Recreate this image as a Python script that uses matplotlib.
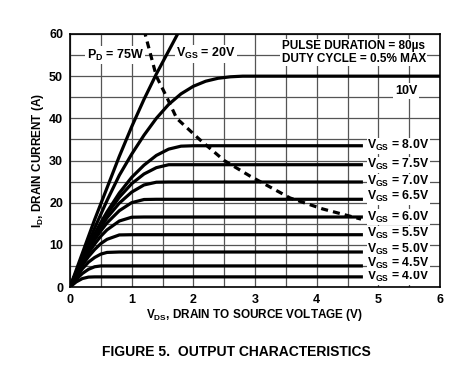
import matplotlib
matplotlib.use("Agg")
import matplotlib.pyplot as plt

plt.rcParams['font.family'] = ['Liberation Sans', 'DejaVu Sans']
plt.rcParams['font.weight'] = 'bold'
plt.rcParams['axes.labelweight'] = 'bold'
plt.rcParams['mathtext.fontset'] = 'custom'
plt.rcParams['mathtext.rm'] = 'Liberation Sans:bold'
plt.rcParams['mathtext.default'] = 'rm'

# drain voltage grid the low-VGS curves were read on
vds = [0, 0.1, 0.2, 0.3, 0.4, 0.5, 0.6, 0.8, 1.0, 1.2, 1.4, 1.6, 1.8, 2.0, 2.5, 3.0, 4.75]

# ID (A) per VGS curve
id_4v0 = [0, 1.2, 2.0, 2.35, 2.4, 2.4, 2.4, 2.4, 2.4, 2.4, 2.4, 2.4, 2.4, 2.4, 2.4, 2.4, 2.4]
id_4v5 = [0, 1.8, 3.2, 4.2, 4.8, 5.0, 5.0, 5.0, 5.0, 5.0, 5.0, 5.0, 5.0, 5.0, 5.0, 5.0, 5.0]
id_5v0 = [0, 2.3, 4.3, 5.9, 7.0, 7.8, 8.2, 8.3, 8.3, 8.3, 8.3, 8.3, 8.3, 8.3, 8.3, 8.3, 8.3]
id_5v5 = [0, 2.75, 5.15, 7.2, 8.9, 10.3, 11.3, 12.35, 12.4, 12.4, 12.4, 12.4, 12.4, 12.4, 12.4, 12.4, 12.4]
id_6v0 = [0, 3.0, 5.7, 8.1, 10.2, 12.05, 13.55, 15.65, 16.55, 16.6, 16.6, 16.6, 16.6, 16.6, 16.6, 16.6, 16.6]
id_6v5 = [0, 3.2, 6.1, 8.8, 11.2, 13.3, 15.2, 18.1, 20.0, 20.75, 20.8, 20.8, 20.8, 20.8, 20.8, 20.8, 20.8]
id_7v0 = [0, 3.3, 6.4, 9.2, 11.9, 14.2, 16.4, 19.9, 22.5, 24.2, 24.85, 24.9, 24.9, 24.9, 24.9, 24.9, 24.9]
id_7v5 = [0, 3.4, 6.6, 9.6, 12.3, 14.9, 17.3, 21.3, 24.5, 26.8, 28.3, 29.0, 29.0, 29.0, 29.0, 29.0, 29.0]
id_8v0 = [0, 3.4, 6.7, 9.7, 12.6, 15.3, 17.8, 22.3, 26.0, 28.9, 31.2, 32.7, 33.4, 33.5, 33.5, 33.5, 33.5]

vds_10v = [0, 0.2, 0.4, 0.6, 0.8, 1.0, 1.2, 1.4, 1.6, 1.8, 2.0, 2.2, 2.4, 2.6, 2.8, 3.0, 6.0]
id_10v = [0, 7, 14, 20.5, 26.5, 31.5, 36, 40, 43.3, 45.8, 47.6, 48.8, 49.5, 49.85, 50, 50, 50]

vds_20v = [0, 0.2, 0.4, 0.6, 0.8, 1.0, 1.2, 1.4, 1.6, 1.8]
id_20v = [0, 8, 16, 23.5, 31, 38, 44.5, 50.5, 56, 61.5]

# PD = 75W limit (dashed)
vds_pd = [1.2, 1.4, 1.57, 1.73, 2.1, 2.5, 2.92, 3.57, 4.1, 4.72]
id_pd = [61, 50, 45, 40, 35, 30, 26.3, 21.1, 18.5, 16.1]

low_curves = [id_4v0, id_4v5, id_5v0, id_5v5, id_6v0, id_6v5, id_7v0, id_7v5, id_8v0]
vgs_labels = ['4.0V', '4.5V', '5.0V', '5.5V', '6.0V', '6.5V', '7.0V', '7.5V', '8.0V']
label_y = [2.4, 5.7, 9.0, 12.7, 16.6, 21.4, 25.0, 29.0, 33.5]

fig = plt.figure(figsize=(4.71, 3.69), dpi=100)
ax = fig.add_axes([70 / 471, 1 - 287 / 369, 370 / 471, 253 / 369])

lw = 2.3
for ids in low_curves:
    ax.plot(vds, ids, color='black', lw=lw, solid_capstyle='butt', zorder=3)
ax.plot(vds_10v, id_10v, color='black', lw=lw, zorder=3)
ax.plot(vds_20v, id_20v, color='black', lw=lw, zorder=3)
ax.plot(vds_pd, id_pd, color='black', lw=2.3, ls=(0, (2.2, 1.6)), zorder=3)

ax.set_xlim(0, 6)
ax.set_ylim(0, 60)
ax.set_xticks([i * 0.5 for i in range(13)])
ax.set_xticklabels(['0', '', '1', '', '2', '', '3', '', '4', '', '5', '', '6'], fontweight='bold')
ax.set_yticks([i * 5 for i in range(13)])
ax.set_yticklabels(['0', '', '10', '', '20', '', '30', '', '40', '', '50', '', '60'], fontweight='bold')
ax.tick_params(length=0, labelsize=9, pad=5)
ax.grid(True, color='#555555', lw=0.9, zorder=1)
for s in ax.spines.values():
    s.set_linewidth(1.2)
    s.set_zorder(2)

box = dict(facecolor='white', edgecolor='none', pad=0.2)
for lab, y in zip(vgs_labels, label_y):
    ax.text(4.82, y, r'V$_{GS}$ = ' + lab, fontsize=8.8, fontweight='bold', va='center',
            ha='left', bbox=box, zorder=5, clip_on=False)
ax.text(5.45, 46.4, '10V', fontsize=9, fontweight='bold', va='center', ha='center',
        bbox=dict(facecolor='white', edgecolor='none', pad=1.5), zorder=5)
ax.text(0.27, 55.0, r'P$_{D}$ = 75W', fontsize=9, fontweight='bold', va='center', ha='left',
        bbox=dict(facecolor='white', edgecolor='none', pad=1.0), zorder=5)
ax.text(1.72, 55.3, r'V$_{GS}$ = 20V', fontsize=9, fontweight='bold', va='center', ha='left',
        bbox=dict(facecolor='white', edgecolor='none', pad=1.0), zorder=5)
ax.text(3.43, 55.6, 'PULSE DURATION = 80\u00b5s\nDUTY CYCLE = 0.5% MAX', fontsize=8.5,
        fontweight='bold', va='center', ha='left', linespacing=1.1,
        bbox=dict(facecolor='white', edgecolor='none', pad=1.0), zorder=5)

ax.set_xlabel(r'V$_{DS}$, DRAIN TO SOURCE VOLTAGE (V)', fontsize=8.5, fontweight='bold', labelpad=1)
ax.set_ylabel(r'I$_{D}$, DRAIN CURRENT (A)', fontsize=8.5, fontweight='bold', labelpad=2)
fig.text(236 / 471, 1 - 352 / 369, 'FIGURE 5.  OUTPUT CHARACTERISTICS', fontsize=10,
         fontweight='bold', ha='center', va='center')

fig.savefig('out.png', dpi=100)
